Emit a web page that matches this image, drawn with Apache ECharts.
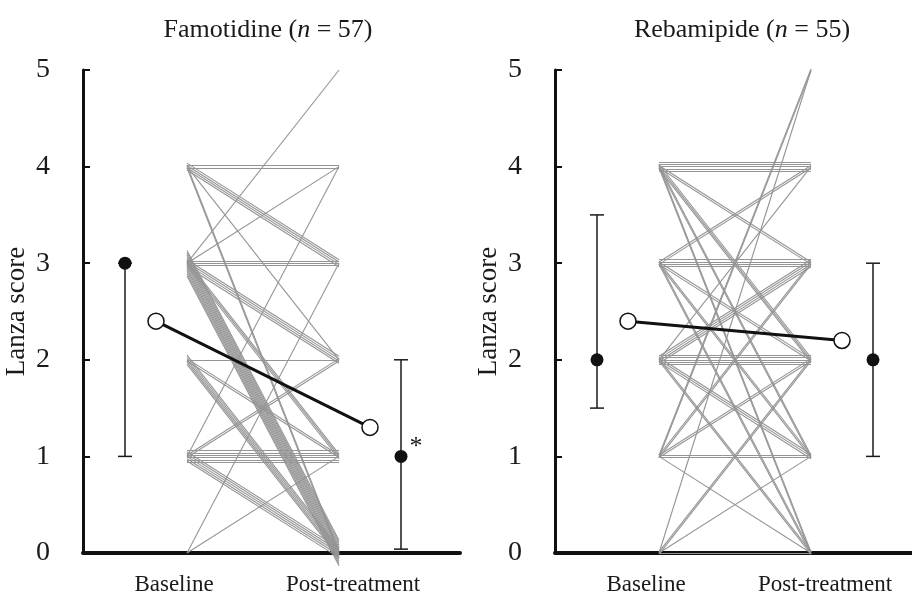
<!DOCTYPE html>
<html><head><meta charset="utf-8">
<script src="https://cdn.jsdelivr.net/npm/echarts@6/dist/echarts.min.js"></script>
<style>html,body{margin:0;padding:0;background:#fff}#c{width:912px;height:596px}</style>
</head><body><div id="c"></div>
<script>
// ---------- data ----------
const yTicks = [0, 1, 2, 3, 4, 5];
const categories = ['Baseline', 'Post-treatment'];
const panelNames = ['Famotidine', 'Rebamipide'];
const panelN = [57, 55];

// paired patient scores (baseline[i] -> post[i])
const famBaseline = [4,4,4,4,4,4,4,4,4,
  3,3,3,3,3,3,3,3,3,3,3,3,3,3,3,3,3,3,3,3,3,3,3,3,
  2,2,2,2,2,2,2,2,
  1,1,1,1,1,1,1,1,1,1,1,1,1,1,
  0,0];
const famPost = [4,4,3,3,3,3,2,0,0,
  5,4,3,3,3,2,2,2,2,1,1,1,0,0,0,0,0,0,0,0,0,0,0,0,
  2,1,1,0,0,0,0,0,
  4,2,2,1,1,1,1,1,1,0,0,0,0,0,
  3,1];
const rebBaseline = [4,4,4,4,4,4,4,4,4,4,4,4,4,4,
  3,3,3,3,3,3,3,3,3,3,3,3,
  2,2,2,2,2,2,2,2,2,2,2,2,2,2,2,
  1,1,1,1,1,1,1,1,1,
  0,0,0,0,0];
const rebPost = [4,4,4,4,4,3,3,2,2,2,1,1,0,0,
  4,4,3,3,3,3,2,2,1,1,0,0,
  4,3,3,3,3,2,2,2,2,2,1,1,1,0,0,
  5,5,3,3,2,2,1,1,0,
  5,2,2,1,0];

// summary statistics
const meanBaseline = [2.4, 2.4];
const meanPost = [1.3, 2.2];
const medianBaseline = [3, 2];
const medianPost = [1, 2];
const rangeBaseline = [[1, 3], [1.5, 3.5]];
const rangePost = [[0.04, 2], [1, 3]];
const significance = ['*', ''];

// ---------- layout (not data) ----------
const FONT = '"Liberation Serif","Times New Roman",serif';
const TXT = '#1a1a1a';
const gridLeft = [83, 555];
const gridWidth = [377, 357];
const titleCenter = [263, 737];
const X = {dotB: 42, meanB: 73, lineB: 104, lineP: 256, meanP: 287, dotP: 318, labB: 91, labP: 270};
const JIT = 0.024;

function pairLines(base, post) {
  const groups = {};
  base.forEach((b, i) => { const k = b + '_' + post[i]; (groups[k] = groups[k] || []).push(i); });
  const out = [];
  Object.keys(groups).forEach(k => {
    const idx = groups[k], n = idx.length;
    idx.forEach((i, j) => {
      const off = (j - (n - 1) / 2) * JIT;
      out.push({coords: [[X.lineB, base[i] + off], [X.lineP, post[i] + off]]});
    });
  });
  return out;
}

const pairsData = [[famBaseline, famPost], [rebBaseline, rebPost]];

const grids = [], xAxes = [], yAxes = [], series = [], titles = [];
for (let p = 0; p < 2; p++) {
  grids.push({left: gridLeft[p], width: gridWidth[p], top: 70, height: 483});
  xAxes.push({
    type: 'value', gridIndex: p, min: 0, max: gridWidth[p],
    axisLine: {show: true, onZero: false, lineStyle: {color: '#111', width: 4}},
    axisTick: {show: false}, splitLine: {show: false},
    axisLabel: {
      customValues: [X.labB, X.labP],
      formatter: v => (Math.abs(v - X.labB) < 1 ? categories[0] : categories[1]),
      fontFamily: FONT, fontSize: 23, color: TXT, margin: 20
    }
  });
  yAxes.push({
    type: 'value', gridIndex: p, min: yTicks[0], max: yTicks[yTicks.length - 1], interval: 1,
    axisLine: {show: true, lineStyle: {color: '#111', width: 3}},
    axisTick: {show: true, inside: true, length: 7, lineStyle: {color: '#111', width: 2}},
    splitLine: {show: false},
    axisLabel: {fontFamily: FONT, fontSize: 28, color: TXT, margin: 33, padding: [8, 0, 0, 0]},
    name: 'Lanza score', nameLocation: 'middle', nameGap: 53,
    nameTextStyle: {fontFamily: FONT, fontSize: 27, color: TXT}
  });
  titles.push({
    text: '{a|' + panelNames[p] + ' (}{i|n}{a| = ' + panelN[p] + ')}',
    left: titleCenter[p], top: 12, textAlign: 'center',
    textStyle: {fontWeight: 'normal', rich: {
      a: {fontFamily: FONT, fontSize: 26, color: TXT, fontWeight: 'normal'},
      i: {fontFamily: FONT, fontSize: 26, color: TXT, fontWeight: 'normal', fontStyle: 'italic'}
    }}
  });
  series.push({
    type: 'lines', coordinateSystem: 'cartesian2d', xAxisIndex: p, yAxisIndex: p,
    data: pairLines(pairsData[p][0], pairsData[p][1]),
    lineStyle: {color: '#959595', width: 1.1, opacity: 1},
    silent: true, clip: false, z: 2, animation: false
  });
  series.push({
    type: 'custom', xAxisIndex: p, yAxisIndex: p, z: 3, silent: true, clip: false,
    data: [[X.dotB, rangeBaseline[p][0], rangeBaseline[p][1]], [X.dotP, rangePost[p][0], rangePost[p][1]]],
    renderItem: (params, api) => {
      const x = api.value(0), a = api.coord([x, api.value(1)]), b = api.coord([x, api.value(2)]);
      const st = {stroke: '#1a1a1a', lineWidth: 1.5};
      const w = 7;
      return {type: 'group', children: [
        {type: 'line', shape: {x1: a[0], y1: a[1], x2: b[0], y2: b[1]}, style: st},
        {type: 'line', shape: {x1: a[0] - w, y1: a[1], x2: a[0] + w, y2: a[1]}, style: st},
        {type: 'line', shape: {x1: b[0] - w, y1: b[1], x2: b[0] + w, y2: b[1]}, style: st}
      ]};
    }
  });
  series.push({
    type: 'scatter', xAxisIndex: p, yAxisIndex: p, z: 4, silent: true,
    symbolSize: 13, itemStyle: {color: '#111', opacity: 1},
    data: [
      {value: [X.dotB, medianBaseline[p]]},
      {value: [X.dotP, medianPost[p]], label: {show: significance[p] !== '', formatter: significance[p],
        position: [15, -16], fontFamily: FONT, fontSize: 26, color: TXT}}
    ]
  });
  series.push({
    type: 'line', xAxisIndex: p, yAxisIndex: p, z: 5, silent: true,
    data: [[X.meanB, meanBaseline[p]], [X.meanP, meanPost[p]]],
    lineStyle: {color: '#111', width: 3},
    symbol: 'circle', symbolSize: 16,
    itemStyle: {color: '#fff', borderColor: '#111', borderWidth: 1.5}
  });
}

const chart = echarts.init(document.getElementById('c'));
chart.setOption({
  animation: false, backgroundColor: '#fff',
  title: titles, grid: grids, xAxis: xAxes, yAxis: yAxes, series: series
});
</script></body></html>
